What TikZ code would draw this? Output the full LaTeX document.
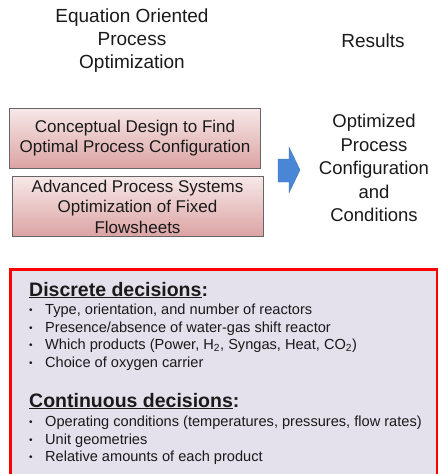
\documentclass[tikz,border=0pt]{standalone}
\usepackage{fontspec}
\setmainfont{Liberation Sans}
\definecolor{pinktop}{HTML}{F7E8E8}
\definecolor{pinkbot}{HTML}{DCA3A3}
\definecolor{lav}{HTML}{E4E0EC}
\definecolor{arrowblue}{HTML}{4A86D6}
\definecolor{txt}{HTML}{1A1A1A}
\tikzset{
  pinkbox/.style={draw=black!60, line width=0.9pt, top color=pinktop, bottom color=pinkbot, minimum width=251pt, minimum height=60pt, align=center, text=txt, font=\fontsize{17}{20.5}\selectfont, inner sep=0pt},
  heading/.style={align=center, text=txt, font=\fontsize{19}{23}\selectfont},
  bullet/.style={anchor=base west, text=txt, font=\fontsize{14.6}{16}\selectfont, inner sep=0pt},
  dot/.style={anchor=base west, text=txt, font=\fontsize{10}{12}\selectfont, inner sep=0pt},
  sect/.style={anchor=base west, text=txt, font=\bfseries\fontsize{19.5}{22}\selectfont, inner sep=0pt},
}
\begin{document}
\begin{tikzpicture}[x=1pt,y=-1pt]
\useasboundingbox (0,0) rectangle (438,474);
\node[heading] (eoh) at (132,41) {Equation Oriented\\Process\\Optimization};
\node[heading] (res) at (373,41) {Results};
\node[pinkbox] (b1) at (135,138) {Conceptual Design to Find\\Optimal Process Configuration};
\node[pinkbox] (b2) at (137.5,206.5) {Advanced Process Systems\\Optimization of Fixed\\Flowsheets};
\fill[arrowblue, draw=arrowblue!85!black, line width=0.3pt] (278,159) -- (289,159) -- (289,147) -- (300,170) -- (289,193) -- (289,182) -- (278,182) -- cycle;
\node[heading, font=\fontsize{18.5}{23.5}\selectfont] (out) at (374,168) {Optimized\\Process\\Configuration\\and\\Conditions};
\node[draw=red, line width=2.5pt, fill=lav, minimum width=427pt, minimum height=240pt, anchor=north west, inner sep=0pt] (panel) at (9,268) {};
\node[sect] (dh) at (29,296) {\underline{Discrete decisions}:};
\foreach \i/\t in {0/{Type, orientation, and number of reactors},1/{Presence/absence of water-gas shift reactor},2/{Which products (Power, H\textsubscript{2}, Syngas, Heat, CO\textsubscript{2})},3/{Choice of oxygen carrier}}{
  \node[dot] (dd\i) at (29,313.5+17.6*\i) {•};
  \node[bullet] (dt\i) at (45,314.5+17.6*\i) {\t};
}
\node[sect] (ch) at (29,407) {\underline{Continuous decisions}:};
\foreach \i/\t in {0/{Operating conditions (temperatures, pressures, flow rates)},1/{Unit geometries},2/{Relative amounts of each product}}{
  \node[dot] (cd\i) at (29,425.5+17.6*\i) {•};
  \node[bullet] (ct\i) at (45,426.5+17.6*\i) {\t};
}
\end{tikzpicture}
\end{document}
